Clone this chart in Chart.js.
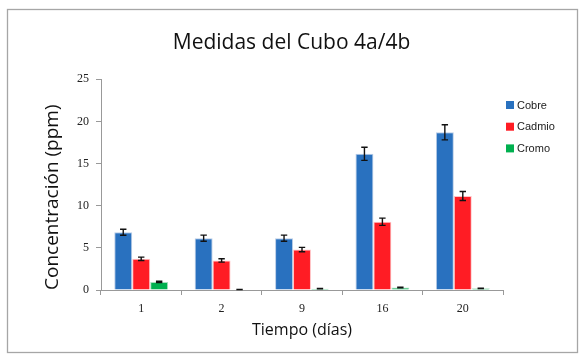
<!DOCTYPE html>
<html>
<head>
<meta charset="utf-8">
<script src="https://cdn.jsdelivr.net/npm/chart.js@4"></script>
<style>
html,body{margin:0;padding:0;background:#fff;}
#wrap{width:583px;height:359px;position:relative;}
</style>
</head>
<body>
<div id="wrap"><canvas id="c" width="583" height="359"></canvas></div>
<script>
const categories = ['1', '2', '9', '16', '20'];
const cobre = [6.85, 6.15, 6.15, 16.15, 18.7];
const cadmio = [3.7, 3.5, 4.8, 8.1, 11.15];
const cromo = [0.95, 0.06, 0.15, 0.3, 0.2];
const cobreErr = [0.35, 0.36, 0.36, 0.78, 0.9];
const cadmioErr = [0.2, 0.2, 0.26, 0.43, 0.53];
const cromoErr = [0.08, 0.02, 0.02, 0.03, 0.02];
const yTicks = [0, 5, 10, 15, 20, 25];
const seriesNames = ['Cobre', 'Cadmio', 'Cromo'];

const frame = {
  id: 'frame',
  beforeDraw(chart) {
    const ctx = chart.ctx;
    ctx.save();
    ctx.fillStyle = '#fff';
    ctx.fillRect(0, 0, chart.width, chart.height);
    ctx.strokeStyle = '#a6a6a6';
    ctx.lineWidth = 1.3;
    ctx.strokeRect(7.5, 9.5, 570, 343);
    ctx.restore();
  }
};

const errorBars = {
  id: 'errorBars',
  afterDatasetsDraw(chart) {
    const ctx = chart.ctx;
    const ys = chart.scales.y;
    ctx.save();
    ctx.strokeStyle = '#111';
    ctx.lineWidth = 1.4;
    chart.data.datasets.forEach((ds, i) => {
      const meta = chart.getDatasetMeta(i);
      meta.data.forEach((el, j) => {
        const v = ds.data[j], e = ds.errors[j];
        const x = el.x;
        const y1 = ys.getPixelForValue(v - e), y2 = ys.getPixelForValue(v + e);
        const hw = 3.2;
        ctx.beginPath();
        ctx.moveTo(x, y1); ctx.lineTo(x, y2);
        ctx.moveTo(x - hw, y1); ctx.lineTo(x + hw, y1);
        ctx.moveTo(x - hw, y2); ctx.lineTo(x + hw, y2);
        ctx.stroke();
      });
    });
    ctx.restore();
  }
};

const customLegend = {
  id: 'customLegend',
  afterDraw(chart) {
    const ctx = chart.ctx;
    ctx.save();
    ctx.font = '11px "Liberation Sans", Arial, sans-serif';
    ctx.textBaseline = 'middle';
    ctx.textAlign = 'left';
    chart.data.datasets.forEach((ds, i) => {
      const cy = 105 + i * 21.7;
      ctx.fillStyle = ds.backgroundColor;
      ctx.fillRect(506, cy - 4, 8, 8);
      ctx.fillStyle = '#222';
      ctx.fillText(ds.label, 517, cy + 0.5);
    });
    ctx.restore();
  }
};

const colors = ['#2971bf', '#ff1c24', '#00b04f'];
const borders = ['#b9cce6', '#ffc4c6', '#a8e0bf'];
const values = [cobre, cadmio, cromo];
const errs = [cobreErr, cadmioErr, cromoErr];

new Chart(document.getElementById('c'), {
  type: 'bar',
  data: {
    labels: categories,
    datasets: seriesNames.map((n, i) => ({
      label: n,
      data: values[i],
      errors: errs[i],
      backgroundColor: colors[i],
      borderColor: borders[i],
      borderWidth: 1,
      categoryPercentage: 0.67,
      barPercentage: 1.0
    }))
  },
  options: {
    responsive: false,
    animation: false,
    devicePixelRatio: 1,
    layout: { padding: { left: 0, right: 0, top: 0, bottom: 0 } },
    plugins: {
      legend: { display: false },
      tooltip: { enabled: false },
      title: {
        display: true,
        text: 'Medidas del Cubo 4a/4b',
        color: '#111',
        font: { family: '"Open Sans", sans-serif', size: 21, weight: 'normal' },
        padding: { top: 30, bottom: 24 }
      }
    },
    scales: {
      x: {
        grid: { display: true, drawOnChartArea: false, drawTicks: true, tickLength: 5, color: '#999', offset: true },
        border: { display: true, color: '#999', width: 1 },
        ticks: { color: '#222', font: { family: '"Liberation Serif", serif', size: 12 }, padding: 7 },
        title: {
          display: true, text: 'Tiempo (días)', color: '#111',
          font: { family: '"Open Sans", sans-serif', size: 16 },
          padding: { top: 0, bottom: 19 }
        },
        afterFit(s) { s.height = 69; }
      },
      y: {
        min: 0, max: 25,
        afterBuildTicks(s) { s.ticks = yTicks.map(v => ({ value: v })); },
        grid: { display: true, drawOnChartArea: false, drawTicks: true, tickLength: 5, color: '#999' },
        border: { display: true, color: '#999', width: 1 },
        ticks: { color: '#222', font: { family: '"Liberation Serif", serif', size: 12 }, padding: 7 },
        title: {
          display: true, text: 'Concentración (ppm)', color: '#111', align: 'start',
          font: { family: '"Open Sans", sans-serif', size: 19 },
          padding: { top: 41, bottom: 41 }
        },
        afterFit(s) { s.width = 101; }
      },
      side: {
        type: 'linear', position: 'right', display: true,
        grid: { display: false }, border: { display: false },
        ticks: { display: false },
        afterFit(s) { s.width = 80; }
      }
    }
  },
  plugins: [frame, errorBars, customLegend]
});
</script>
</body>
</html>
